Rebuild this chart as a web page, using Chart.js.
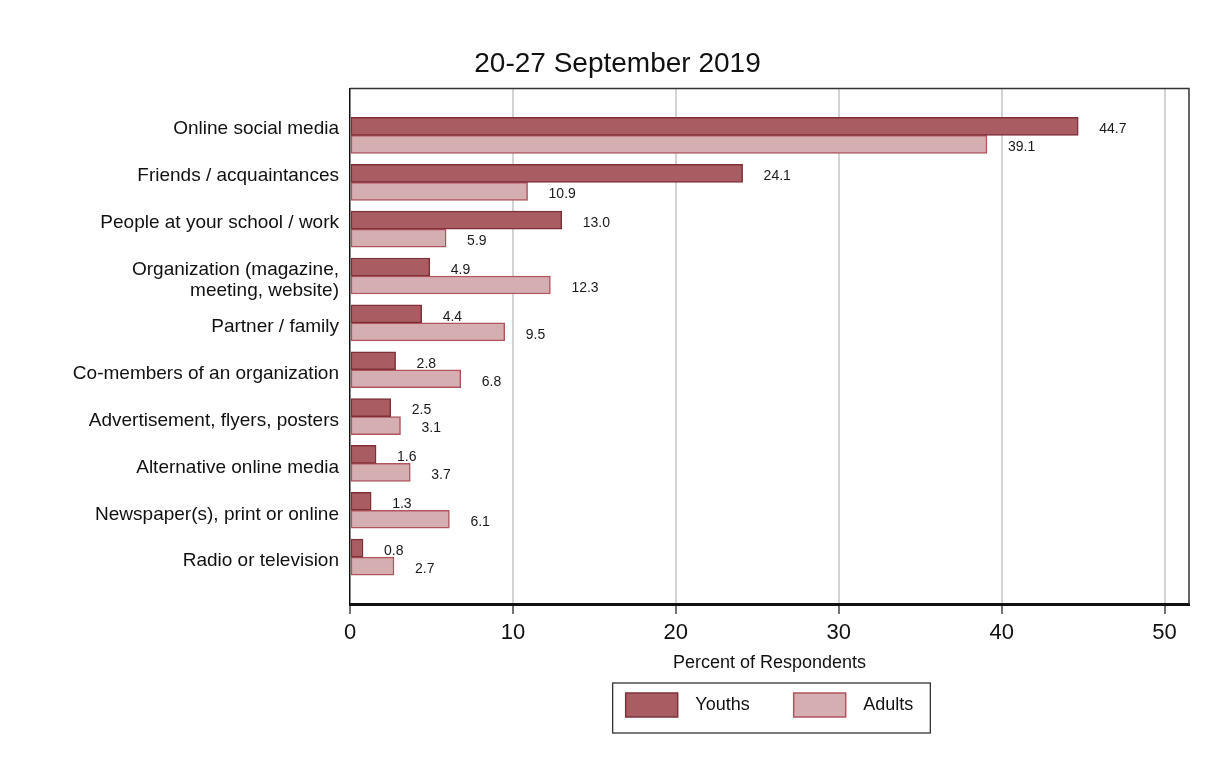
<!DOCTYPE html>
<html>
<head>
<meta charset="utf-8">
<script src="https://cdn.jsdelivr.net/npm/chart.js@4.4.1/dist/chart.umd.min.js"></script>
<style>
  html, body { margin: 0; padding: 0; background: #fff; }
  #wrap { width: 1208px; height: 760px; }
</style>
</head>
<body>
<div id="wrap"><canvas id="chart"></canvas></div>
<script>
// data
// (the first three labels sit a half line higher in the original, hence the empty second line)
var categories = [
	["Online social media", ""],
	["Friends / acquaintances", ""],
	["People at your school / work", ""],
	["Organization (magazine,", "meeting, website)"],
	"Partner / family",
	"Co-members of an organization",
	"Advertisement, flyers, posters",
	"Alternative online media",
	"Newspaper(s), print or online",
	"Radio or television"
];
var youths = [44.7, 24.1, 13.0, 4.9, 4.4, 2.8, 2.5, 1.6, 1.3, 0.8];
var adults = [39.1, 10.9, 5.9, 12.3, 9.5, 6.8, 3.1, 3.7, 6.1, 2.7];
var xTicks = [0, 10, 20, 30, 40, 50];

var FONT = "'Liberation Sans', Arial, Helvetica, sans-serif";

// empty slot at both ends, so the bars sit half a step in from the frame
var labels = [""].concat(categories, [""]);
function pad(arr) { return [null].concat(arr, [null]); }

// frame around the plot (top + right grey)
var framePlugin = {
	id: "frame",
	afterDatasetsDraw: function(chart) {
		var a = chart.chartArea, ctx = chart.ctx;
		ctx.save();
		ctx.strokeStyle = "#333";
		ctx.lineWidth = 1.5;
		ctx.beginPath();
		ctx.moveTo(a.left, a.top);
		ctx.lineTo(a.right, a.top);
		ctx.lineTo(a.right, a.bottom);
		ctx.stroke();
		ctx.restore();
	}
};

// value labels to the right of each bar
var valuePlugin = {
	id: "values",
	afterDatasetsDraw: function(chart) {
		var ctx = chart.ctx;
		ctx.save();
		ctx.font = "14px " + FONT;
		ctx.fillStyle = "#1a1a1a";
		ctx.textAlign = "left";
		ctx.textBaseline = "middle";
		chart.data.datasets.forEach(function(ds, di) {
			var meta = chart.getDatasetMeta(di);
			meta.data.forEach(function(bar, i) {
				var v = ds.data[i];
				if (v === null) return;
				ctx.fillText(v.toFixed(1), bar.x + 21, bar.y + 3);
			});
		});
		ctx.restore();
	}
};

// box around the legend items
var legendBoxPlugin = {
	id: "legendBox",
	afterDraw: function(chart) {
		var hb = chart.legend.legendHitBoxes;
		if (!hb || !hb.length) return;
		var l = Infinity, t = Infinity, r = -Infinity, b = -Infinity;
		hb.forEach(function(h) {
			l = Math.min(l, h.left); t = Math.min(t, h.top);
			r = Math.max(r, h.left + h.width); b = Math.max(b, h.top + h.height);
		});
		var ctx = chart.ctx;
		ctx.save();
		ctx.strokeStyle = "#222";
		ctx.lineWidth = 1.2;
		ctx.strokeRect(l - 13, t - 10, (r - l) + 30, (b - t) + 26);
		ctx.restore();
	}
};

var ctx = document.getElementById("chart").getContext("2d");
new Chart(ctx, {
	type: "bar",
	data: {
		labels: labels,
		datasets: [{
			label: "Youths",
			data: pad(youths),
			backgroundColor: "#a95d63",
			borderColor: "#7e3039",
			borderWidth: 1.5,
			borderSkipped: false,
			barThickness: 18
		}, {
			label: "Adults",
			data: pad(adults),
			backgroundColor: "#d5aeb2",
			borderColor: "#b0545e",
			borderWidth: 1.5,
			borderSkipped: false,
			barThickness: 18
		}]
	},
	options: {
		indexAxis: "y",
		responsive: true,
		maintainAspectRatio: false,
		animation: false,
		layout: { padding: { left: 46, right: 19, top: 0, bottom: 33 } },
		plugins: {
			title: {
				display: true,
				text: "20-27 September 2019",
				color: "#111",
				font: { size: 28, family: FONT, weight: "normal" },
				padding: { top: 47, bottom: 8 }
			},
			legend: {
				position: "bottom",
				fullSize: false,
				labels: {
					color: "#111",
					font: { size: 18, family: FONT },
					boxWidth: 52,
					boxHeight: 24,
					padding: 19,
					generateLabels: function(chart) {
						var items = Chart.defaults.plugins.legend.labels.generateLabels(chart);
						items.forEach(function(it, i) {
							// a bit more room between swatch and text, and between the two items
							it.text = "\u2009 " + it.text + (i < items.length - 1 ? "     " : "");
						});
						return items;
					}
				}
			},
			tooltip: { enabled: false }
		},
		scales: {
			x: {
				min: 0,
				max: 51.5,
				afterBuildTicks: function(scale) {
					scale.ticks = xTicks.map(function(v) { return { value: v }; });
				},
				grid: {
					color: function(c) { return c.tick && c.tick.value === 0 ? "rgba(0,0,0,0)" : "#d3d3d3"; },
					lineWidth: 2,
					tickColor: "#444",
					tickWidth: 1.5,
					tickLength: 10
				},
				border: { color: "#111", width: 3 },
				ticks: {
					color: "#111",
					padding: 6,
					font: { size: 22, family: FONT }
				},
				title: {
					display: true,
					text: "Percent of Respondents",
					color: "#111",
					font: { size: 18, family: FONT },
					padding: { top: 0, bottom: 0 }
				}
			},
			y: {
				offset: false,
				afterFit: function(scale) { scale.width = 304; },
				grid: { display: false, drawTicks: false },
				border: { color: "#111", width: 1.5 },
				ticks: {
					color: "#111",
					padding: 11,
					labelOffset: 4,
					autoSkip: false,
					font: { size: 19, family: FONT, lineHeight: 1.1 }
				}
			}
		}
	},
	plugins: [framePlugin, valuePlugin, legendBoxPlugin]
});
</script>
</body>
</html>
